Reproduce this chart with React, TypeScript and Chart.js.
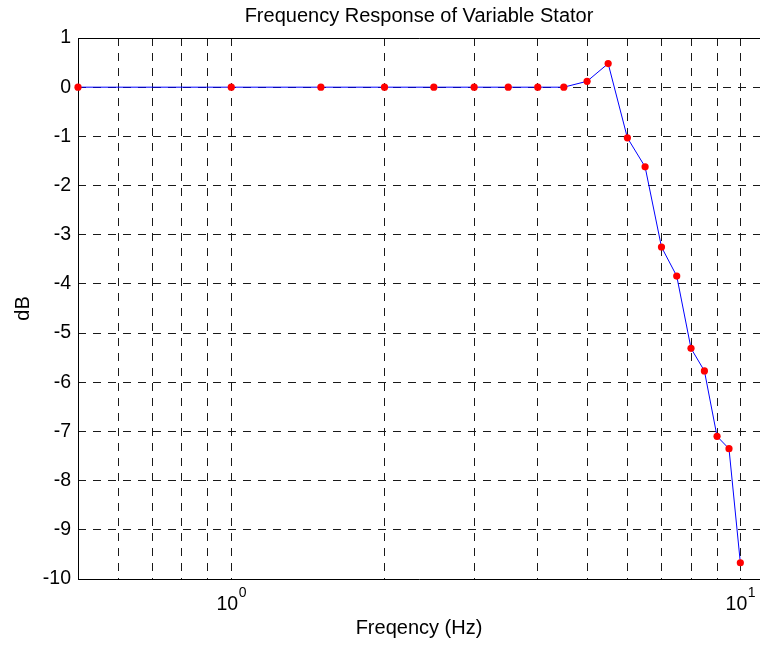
import React, { useEffect, useRef } from 'react';
import { Chart, registerables } from 'chart.js';

Chart.register(...registerables);

// ---- data ----
const freqHz = [0.5, 1, 1.5, 2, 2.5, 3, 3.5, 4, 4.5, 5, 5.5, 6, 6.5, 7, 7.5, 8, 8.5, 9, 9.5, 10];
const gainDb = [0, 0, 0, 0, 0, 0, 0, 0, 0, 0.12, 0.48, -1.03, -1.62, -3.25, -3.84, -5.31, -5.77, -7.1, -7.35, -9.67];
const xGridValues = [0.6, 0.7, 0.8, 0.9, 1, 2, 3, 4, 5, 6, 7, 8, 9, 10];
const xLabelValues = [1, 10];
const xLabelExponents = ['0', '1'];
const yTickValues = [1, 0, -1, -2, -3, -4, -5, -6, -7, -8, -9, -10];
const titleText = 'Frequency Response of Variable Stator';
const xTitleText = 'Freqency (Hz)';
const yTitleText = 'dB';

const FONT = "'Liberation Sans', Arial, Helvetica, sans-serif";
const TEXT_SIZE = 20;
const TICK_SIZE = 19.5;
const SUP_SIZE = 14;

const matlabPlugin = {
  id: 'matlabAxes',
  beforeDatasetsDraw(chart: any) {
    const { ctx, chartArea } = chart;
    const { left, top, right, bottom } = chartArea;
    ctx.save();
    ctx.setLineDash([]);
    ctx.strokeStyle = '#000';
    ctx.lineWidth = 1;
    ctx.beginPath();
    ctx.moveTo(left + 0.5, bottom + 0.5);
    ctx.lineTo(left + 0.5, top + 0.5);
    ctx.lineTo(right, top + 0.5);
    ctx.moveTo(left + 0.5, bottom + 0.5);
    ctx.lineTo(right, bottom + 0.5);
    ctx.stroke();
    ctx.restore();
  },
  afterDraw(chart: any) {
    const { ctx, chartArea } = chart;
    const { left, right, bottom } = chartArea;
    ctx.save();
    ctx.fillStyle = '#000';
    // title
    ctx.font = `${TEXT_SIZE}px ${FONT}`;
    ctx.textAlign = 'center';
    ctx.textBaseline = 'alphabetic';
    ctx.fillText(titleText, (left + right) / 2, 22);
    // x tick labels with superscript exponents
    const xs = chart.scales.x;
    ctx.textAlign = 'left';
    xLabelValues.forEach((v, i) => {
      const px = xs.getPixelForValue(v);
      ctx.font = `${TICK_SIZE}px ${FONT}`;
      const w1 = ctx.measureText('10').width;
      ctx.font = `${SUP_SIZE}px ${FONT}`;
      const w2 = ctx.measureText(xLabelExponents[i]).width;
      const x0 = px - (w1 + w2) / 2;
      ctx.font = `${TICK_SIZE}px ${FONT}`;
      ctx.fillText('10', x0, bottom + 31);
      ctx.font = `${SUP_SIZE}px ${FONT}`;
      ctx.fillText(xLabelExponents[i], x0 + w1 + 0.5, bottom + 18);
    });
    ctx.restore();
  },
};

export default function App() {
  const canvasRef = useRef<HTMLCanvasElement | null>(null);

  useEffect(() => {
    const canvas = canvasRef.current;
    if (!canvas) return;
    const points = freqHz.map((f, i) => ({ x: f, y: gainDb[i] }));
    const chart = new Chart(canvas, {
      type: 'line',
      data: {
        datasets: [
          {
            data: points,
            borderColor: '#0000ff',
            borderWidth: 1,
            backgroundColor: '#ff0000',
            pointBackgroundColor: '#ff0000',
            pointBorderWidth: 0,
            pointRadius: 3.6,
            pointHoverRadius: 3.6,
            tension: 0,
            fill: false,
            clip: false as any,
          },
        ],
      },
      options: {
        animation: false,
        responsive: false,
        devicePixelRatio: 1,
        events: [],
        layout: { autoPadding: false, padding: { top: 38, left: 0, right: 0, bottom: 0 } },
        plugins: {
          legend: { display: false },
          tooltip: { enabled: false },
          title: { display: false },
        },
        scales: {
          x: {
            type: 'logarithmic',
            min: 0.5,
            max: 10.93,
            afterFit: (s: any) => {
              s.height = 68;
              s.paddingLeft = 0;
              s.paddingRight = 0;
            },
            afterBuildTicks: (s: any) => {
              s.ticks = xGridValues.map((v) => ({ value: v }));
            },
            ticks: { display: false },
            grid: {
              display: true,
              drawTicks: false,
              color: '#1a1a1a',
              lineWidth: 1,
            },
            border: { display: false, dash: [8, 7] },
            title: {
              display: true,
              text: xTitleText,
              color: '#000',
              font: { family: FONT, size: TEXT_SIZE },
              padding: { top: 0, bottom: 7 },
            },
          },
          y: {
            type: 'linear',
            min: -10,
            max: 1,
            afterFit: (s: any) => {
              s.width = 78;
              s.paddingTop = 0;
              s.paddingBottom = 0;
            },
            afterBuildTicks: (s: any) => {
              s.ticks = yTickValues.map((v) => ({ value: v }));
            },
            ticks: {
              color: '#000',
              font: { family: FONT, size: TICK_SIZE },
              padding: 7,
              callback: (v: any) => String(v),
            },
            grid: {
              display: true,
              drawTicks: false,
              color: '#1a1a1a',
              lineWidth: 1,
            },
            border: { display: false, dash: [8, 7] },
            title: {
              display: true,
              text: yTitleText,
              color: '#000',
              font: { family: FONT, size: TEXT_SIZE },
              padding: { top: 11, bottom: 0 },
            },
          },
        },
      },
      plugins: [matlabPlugin],
    });
    return () => chart.destroy();
  }, []);

  return (
    <div style={{ position: 'absolute', left: 0, top: 0, width: 760, height: 647, background: '#fff' }}>
      <canvas ref={canvasRef} width={760} height={647} style={{ display: 'block', width: 760, height: 647 }} />
    </div>
  );
}
